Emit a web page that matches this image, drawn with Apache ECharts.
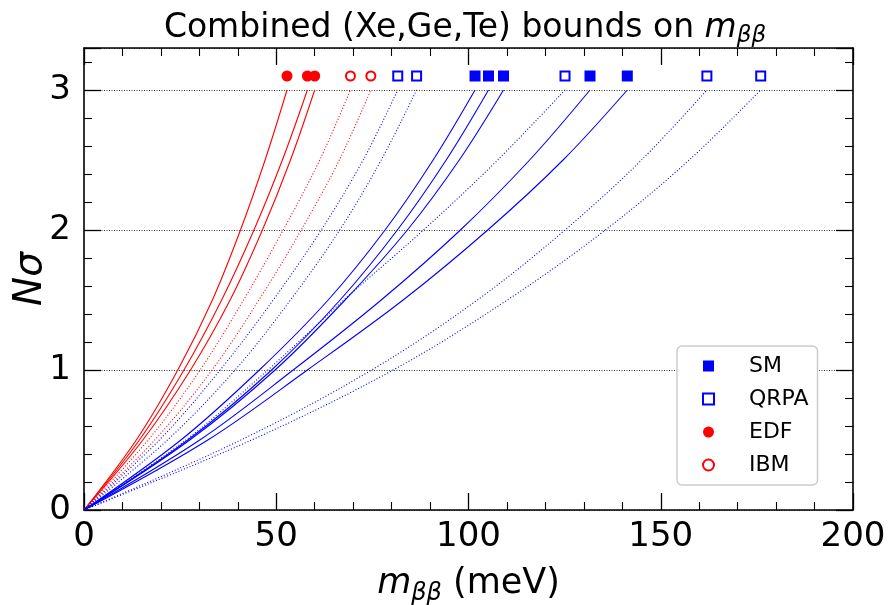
<!DOCTYPE html>
<html>
<head>
<meta charset="utf-8">
<script src="https://cdn.jsdelivr.net/npm/echarts@6/dist/echarts.min.js"></script>
<style>html,body{margin:0;padding:0;background:#fff;}#c{width:888px;height:605px;}</style>
</head>
<body>
<div id="c"></div>
<script>
// Nσ levels at which each curve was read
const sigmaLevels = [0, 0.5, 1, 1.5, 2, 2.5, 3];
// m_bb (meV) of each curve at the levels above
const smCurves = [
  [0, 25.2, 45.6, 63.5, 78.3, 90.8, 101.7],
  [0, 27.0, 48.8, 66.6, 81.5, 94.2, 105.2],
  [0, 27.5, 49.7, 67.9, 84.1, 97.6, 109.1],
  [0, 30.1, 54.4, 77.3, 97.9, 115.9, 131.6],
  [0, 32.2, 58.1, 83.0, 105.0, 124.6, 141.3]
];
const qrpaCurves = [
  [0, 19.6, 35.4, 49.2, 61.7, 72.6, 81.6],
  [0, 21.7, 39.3, 53.7, 66.5, 77.3, 86.5],
  [0, 26.5, 47.8, 67.6, 88.3, 107.6, 125.1],
  [0, 40.8, 74.8, 102.3, 125.1, 145.0, 162.0],
  [0, 43.6, 80.4, 110.1, 135.6, 157.4, 176.0]
];
const edfCurves = [
  [0, 13.6, 24.4, 33.4, 40.7, 47.1, 52.8],
  [0, 14.4, 26.0, 35.8, 44.2, 51.6, 58.1],
  [0, 15.3, 27.7, 38.0, 46.4, 53.7, 60.0]
];
const ibmCurves = [
  [0, 16.7, 30.2, 41.5, 51.8, 61.3, 69.3],
  [0, 18.4, 33.3, 45.5, 56.5, 66.4, 74.6]
];
// marker row (Nσ) where the 3σ bounds are marked
const markerLevel = 3.1;
const legendNames = ['SM', 'QRPA', 'EDF', 'IBM'];
const xTicks = [0, 50, 100, 150, 200];
const yTicks = [0, 1, 2, 3];

const RED = '#ff0000', BLUE = '#0000ff';
const FONT = 'DejaVu Sans';

function curveSeries(curves, color, dotted) {
  return curves.map(c => ({
    type: 'line',
    data: c.map((m, i) => [m, sigmaLevels[i]]),
    smooth: 0.35,
    showSymbol: false,
    silent: true,
    z: 2,
    lineStyle: { color: color, width: 1.1, type: dotted ? [1, 2] : 'solid', opacity: 1 }
  }));
}
function markerSeries(name, curves, symbol, color, open) {
  return {
    type: 'scatter', name: name,
    data: curves.map(c => [c[c.length - 1], markerLevel]),
    symbol: symbol, symbolSize: open ? 9 : 11, z: 5,
    itemStyle: open ? { color: '#fff', borderColor: color, borderWidth: 2, opacity: 1 }
                    : { color: color, borderWidth: 0, opacity: 1 }
  };
}

const chart = echarts.init(document.getElementById('c'), null, { renderer: 'canvas' });
const tickCommon = { show: true, inside: true, length: 17, lineStyle: { color: '#000', width: 1.3 } };
const minorCommon = { show: true, splitNumber: 5, length: 8, lineStyle: { color: '#000', width: 1.1 } };
const lineCommon = { show: true, onZero: false, lineStyle: { color: '#000', width: 1.6 } };

chart.setOption({
  animation: false,
  backgroundColor: '#fff',
  title: {
    text: '{a|Combined (Xe,Ge,Te) bounds on }{i|m}{s|ββ}',
    left: 460, top: 3, textAlign: 'center',
    textStyle: {
      fontWeight: 'normal',
      rich: {
        a: { fontFamily: FONT, fontSize: 33, fontWeight: 'normal', color: '#000', lineHeight: 40 },
        i: { fontFamily: FONT, fontSize: 33, fontWeight: 'normal', fontStyle: 'italic', color: '#000', lineHeight: 40 },
        s: { fontFamily: FONT, fontSize: 23, fontWeight: 'normal', fontStyle: 'italic', color: '#000', lineHeight: 25, verticalAlign: 'bottom' }
      }
    }
  },
  grid: { left: 84, right: 35, top: 48, bottom: 95, containLabel: false, outerBoundsMode: 'none' },
  legend: {
    data: legendNames.map((n, i) => (i % 2 === 1
      ? { name: n, itemStyle: { borderWidth: 2 } }
      : { name: n })),
    orient: 'vertical', left: 677, top: 346,
    itemWidth: 11, itemHeight: 11, itemGap: 7,
    padding: [7, 9, 7, 25],
    backgroundColor: '#fff', borderColor: '#cccccc', borderWidth: 1.5, borderRadius: 5,
    textStyle: { fontFamily: FONT, fontSize: 22, color: '#000', lineHeight: 26, padding: [0, 0, 0, 30] }
  },
  xAxis: [
    {
      type: 'value', min: 0, max: 200, interval: 50, position: 'bottom',
      axisLine: lineCommon, axisTick: tickCommon, minorTick: minorCommon,
      splitLine: { show: false },
      axisLabel: { fontFamily: FONT, fontSize: 34, color: '#000', margin: 10,
        formatter: v => xTicks.indexOf(v) >= 0 ? String(v) : '' },
      name: '{i|m}{s|ββ}{a| (meV)}', nameLocation: 'middle', nameGap: 52, nameMoveOverlap: false,
      nameTextStyle: { rich: {
        a: { fontFamily: FONT, fontSize: 35, color: '#000', lineHeight: 44 },
        i: { fontFamily: FONT, fontSize: 35, fontStyle: 'italic', color: '#000', lineHeight: 44 },
        s: { fontFamily: FONT, fontSize: 24, fontStyle: 'italic', color: '#000', lineHeight: 28, verticalAlign: 'bottom' }
      } }
    },
    {
      type: 'value', min: 0, max: 200, interval: 50, position: 'top',
      axisLine: lineCommon, axisTick: tickCommon, minorTick: minorCommon,
      splitLine: { show: false }, axisLabel: { show: false }
    }
  ],
  yAxis: [
    {
      type: 'value', min: 0, max: 3.3, interval: 1, position: 'left',
      axisLine: lineCommon, axisTick: tickCommon, minorTick: minorCommon,
      splitLine: { show: true, lineStyle: { color: '#222', width: 0.9, type: [1, 1.5] } },
      axisLabel: { fontFamily: FONT, fontSize: 34, color: '#000', margin: 13,
        formatter: v => yTicks.indexOf(v) >= 0 ? String(v) : '' },
      name: '{i|Nσ}', nameLocation: 'middle', nameGap: 34, nameRotate: 90, nameMoveOverlap: false,
      nameTextStyle: { rich: { i: { fontFamily: FONT, fontSize: 39, fontStyle: 'italic', color: '#000' } } }
    },
    {
      type: 'value', min: 0, max: 3.3, interval: 1, position: 'right',
      axisLine: lineCommon, axisTick: tickCommon, minorTick: minorCommon,
      splitLine: { show: false }, axisLabel: { show: false }
    }
  ],
  series: [].concat(
    curveSeries(edfCurves, RED, false),
    curveSeries(ibmCurves, RED, true),
    curveSeries(smCurves, BLUE, false),
    curveSeries(qrpaCurves, BLUE, true),
    [
      markerSeries('SM', smCurves, 'rect', BLUE, false),
      markerSeries('QRPA', qrpaCurves, 'rect', BLUE, true),
      markerSeries('EDF', edfCurves, 'circle', RED, false),
      markerSeries('IBM', ibmCurves, 'circle', RED, true)
    ]
  )
});
</script>
</body>
</html>
